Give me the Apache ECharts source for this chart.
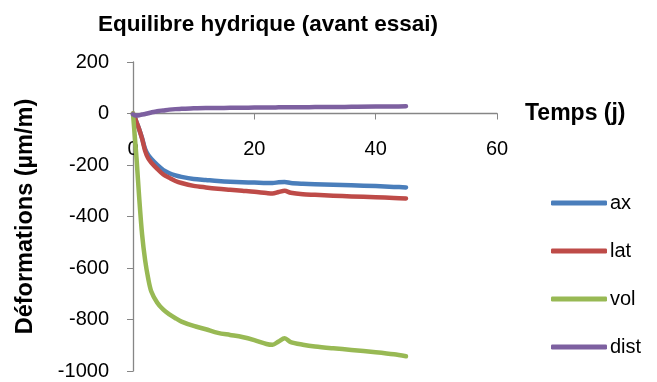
<!DOCTYPE html>
<html>
<head>
<meta charset="utf-8">
<script src="https://cdn.jsdelivr.net/npm/echarts@6/dist/echarts.min.js"></script>
<style>
  html, body { margin: 0; padding: 0; background: #fff; }
  #chart { width: 657px; height: 382px; }
</style>
</head>
<body>
<div id="chart"></div>
<script>
// Temps en jours
const days = [0, 0.3, 0.6, 1, 1.5, 2, 2.5, 3, 4, 5, 6, 7, 8, 10, 12, 14, 16, 18, 20, 22, 23, 24, 25, 26, 28, 30, 33, 36, 40, 43, 45];
// Déformations (µm/m)
const ax   = [0, -15, -35, -60, -96, -138, -161, -176, -200, -220, -232, -240, -246, -254, -258, -262, -265, -267, -268, -270, -270, -267, -266, -270, -273, -275, -277, -279, -282, -285, -287];
const lat  = [0, -15, -35, -60, -98, -145, -174, -190, -215, -237, -250, -262, -270, -281, -287, -292, -296, -300, -304, -309, -311, -305, -300, -308, -314, -316, -319, -322, -325, -328, -330];
const vol  = [0, -90, -180, -320, -470, -570, -640, -690, -735, -762, -780, -795, -808, -825, -838, -852, -860, -868, -880, -895, -898, -885, -873, -888, -898, -905, -912, -918, -927, -935, -943];
const dist = [-3, -7, -8, -7, -4, -2, 1, 4, 9, 12, 15, 17, 18, 20, 21, 21, 22, 22, 23, 23, 23, 24, 24, 24, 24, 25, 25, 26, 27, 27, 28];

const seriesNames = ['ax', 'lat', 'vol', 'dist'];
const seriesValues = [ax, lat, vol, dist];
const colors = ['#4a7ebb', '#be4b48', '#98b954', '#7d60a0'];

const xTicks = { min: 0, max: 60, interval: 20 };
const yTicks = { min: -1000, max: 200, interval: 200 };

const font = "'Liberation Sans', Arial, sans-serif";

// Plot area and the offset that puts the time axis on the zero line
const W = 657, H = 382;
const grid = { left: 133, right: 160, top: 62, bottom: 11 };
const plotH = H - grid.top - grid.bottom;
const zeroOffset = -plotH * (0 - yTicks.min) / (yTicks.max - yTicks.min);

const chart = echarts.init(document.getElementById('chart'));
chart.setOption({
  animation: false,
  backgroundColor: '#fff',
  color: colors,
  title: {
    text: 'Equilibre hydrique (avant essai)',
    left: 263, top: 8, textAlign: 'center',
    textStyle: { fontFamily: font, fontWeight: 'bold', fontSize: 22.5, color: '#000' }
  },
  grid: Object.assign({ containLabel: false, outerBoundsMode: 'none' }, grid),
  legend: {
    orient: 'vertical', left: 546, top: 188,
    itemGap: 28, itemWidth: 56, itemHeight: 5,
    icon: 'roundRect',
    textStyle: { fontFamily: font, fontSize: 20, color: '#000', padding: [0, 0, 0, -2] },
    data: seriesNames
  },
  xAxis: {
    type: 'value', min: xTicks.min, max: xTicks.max, interval: xTicks.interval,
    position: 'bottom', offset: zeroOffset,
    name: 'Temps (j)', nameLocation: 'end', nameGap: 28,
    nameTextStyle: { fontFamily: font, fontWeight: 'bold', fontSize: 23, color: '#000', padding: [0, 0, 24, 0] },
    axisLine: { onZero: false, lineStyle: { color: '#868686', width: 1.3 } },
    axisTick: { show: true, inside: false, length: 6, lineStyle: { color: '#868686' } },
    axisLabel: { margin: 26, fontFamily: font, fontSize: 20, color: '#000' },
    splitLine: { show: false }
  },
  yAxis: {
    type: 'value', min: yTicks.min, max: yTicks.max, interval: yTicks.interval,
    name: 'Déformations (µm/m)', nameLocation: 'middle', nameGap: 95, nameRotate: 90,
    nameTextStyle: { fontFamily: font, fontWeight: 'bold', fontSize: 23.5, color: '#000' },
    axisLine: { show: true, onZero: false, lineStyle: { color: '#868686', width: 1.3 } },
    axisTick: { show: true, length: 6, lineStyle: { color: '#868686' } },
    axisLabel: { margin: 24, fontFamily: font, fontSize: 20, color: '#000', formatter: v => String(v) },
    splitLine: { show: false }
  },
  series: seriesNames.map((name, i) => ({
    name: name,
    type: 'line',
    symbol: 'none',
    smooth: 0.3,
    lineStyle: { width: 4.5, color: colors[i], cap: 'round', join: 'round' },
    itemStyle: { color: colors[i] },
    data: days.map((d, k) => [d, seriesValues[i][k]])
  }))
});
</script>
</body>
</html>
